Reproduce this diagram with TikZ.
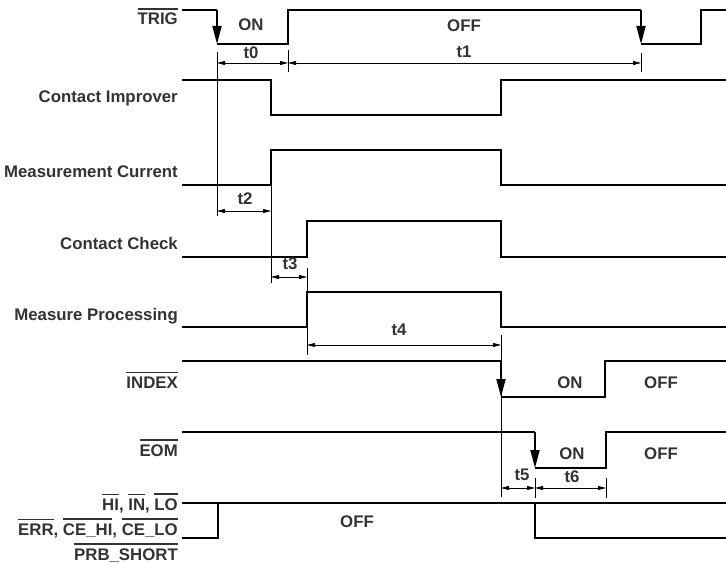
\documentclass[tikz,border=0pt]{standalone}
\usepackage{fontspec}
\setmainfont{Liberation Sans}
\usetikzlibrary{arrows.meta}
\newcommand{\nbar}[1]{\leavevmode\vbox{\hrule height 1.3pt\kern 3.5pt\hbox{#1}}}

\begin{document}
\begin{tikzpicture}[x=1pt,y=-1pt,
    sig/.style={line width=1.8pt},
    bus/.style={line width=1.3pt},
    guide/.style={line width=0.8pt},
    dim/.style={line width=0.8pt,{Triangle[length=8pt,width=4pt]}-{Triangle[length=8pt,width=4pt]}},
    fall/.style={line width=1.8pt,-{Triangle[length=18pt,width=9pt]}},
    lbl/.style={anchor=base east,inner sep=0pt,text=black!80},
    txt/.style={anchor=base,inner sep=0pt,text=black!80},
    font=\fontsize{16.8}{19}\selectfont\bfseries]
        \useasboundingbox (0,0) rectangle (726,564);
        % TRIG
        \node[lbl] (trig) at (178,25) {\nbar{TRIG}};
        \draw[sig] (182,10) -- (217,10);
        \draw[fall] (217,10) -- (217,44);
        \draw[sig] (217,44) -- (288,44) -- (288,10) -- (641,10);
        \draw[fall] (641,10) -- (641,44);
        \draw[sig] (641,44) -- (701,44) -- (701,10) -- (726,10);
        \node[txt] (trigon) at (251,31) {ON};
        \node[txt] (trigoff) at (464,32) {OFF};
        \draw[guide] (217,52) -- (217,216);
        \draw[guide] (288,50) -- (288,72);
        \draw[guide] (641,53) -- (641,72);
        \draw[dim] (217,63) -- (288,63);
        \draw[dim] (288,63) -- (641,63);
        \node[txt] (t0) at (251,59) {t0};
        \node[txt] (t1) at (464,58) {t1};
        % Contact Improver
        \node[lbl] (ci) at (178,103) {Contact Improver};
        \draw[sig] (182,80) -- (271,80) -- (271,115) -- (501,115) -- (501,80) -- (726,80);
        % Measurement Current
        \node[lbl] (mc) at (178,178) {Measurement Current};
        \draw[sig] (182,185) -- (271,185) -- (271,150) -- (501,150) -- (501,185) -- (726,185);
        \draw[guide] (271,185) -- (271,283);
        \draw[dim] (217,211) -- (271,211);
        \node[txt] (t2) at (245,205) {t2};
        % Contact Check
        \node[lbl] (cc) at (178,250) {Contact Check};
        \draw[sig] (182,257) -- (307,257) -- (307,221) -- (501,221) -- (501,257) -- (726,257);
        \draw[guide] (307,268) -- (307,355);
        \draw[dim] (271,277) -- (307,277);
        \node[txt] (t3) at (290,270) {t3};
        % Measure Processing
        \node[lbl] (mp) at (178,320) {Measure Processing};
        \draw[sig] (182,327) -- (307,327) -- (307,292) -- (501,292) -- (501,327) -- (726,327);
        \draw[guide] (501,335) -- (501,497);
        \draw[dim] (307,345) -- (501,345);
        \node[txt] (t4) at (399,335) {t4};
        % INDEX
        \node[lbl] (index) at (178,388) {\nbar{INDEX}};
        \draw[sig] (182,361) -- (501,361);
        \draw[fall] (501,361) -- (501,397);
        \draw[sig] (501,397) -- (605,397) -- (605,361) -- (726,361);
        \node[txt] (indexon) at (570,388) {ON};
        \node[txt] (indexoff) at (661,388) {OFF};
        % EOM
        \node[lbl] (eom) at (178,456) {\nbar{EOM}};
        \draw[sig] (182,432) -- (535,432);
        \draw[fall] (535,432) -- (535,468);
        \draw[sig] (535,468) -- (606,468) -- (606,432) -- (726,432);
        \node[txt] (eomon) at (572,459) {ON};
        \node[txt] (eomoff) at (661,459) {OFF};
        \draw[guide] (535,478) -- (535,498);
        \draw[guide] (606,478) -- (606,498);
        \draw[dim] (501,488) -- (535,488);
        \draw[dim] (535,488) -- (606,488);
        \node[txt] (t5) at (522,480) {t5};
        \node[txt] (t6) at (572,482) {t6};
        % judgement outputs
        \node[lbl] (hilo) at (178,510) {\nbar{HI}, \nbar{IN}, \nbar{LO}};
        \node[lbl] (err) at (178,535) {\nbar{ERR}, \nbar{CE\_HI}, \nbar{CE\_LO}};
        \node[lbl] (prb) at (178,560) {\nbar{PRB\_SHORT}};
        \draw[bus] (182,503) -- (726,503);
        \draw[bus] (182,538) -- (218,538) -- (218,503);
        \draw[bus] (535,503) -- (535,538) -- (726,538);
        \node[txt] (busoff) at (357,527) {OFF};
    \end{tikzpicture}
\end{document}
